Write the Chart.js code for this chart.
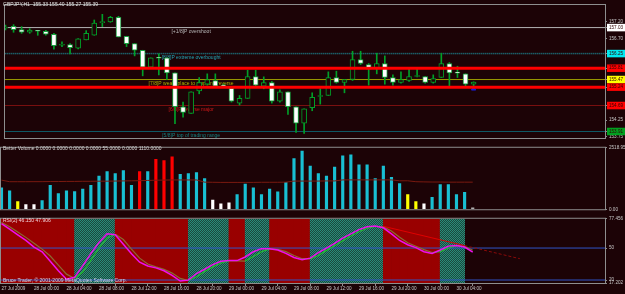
<!DOCTYPE html>
<html>
<head>
<meta charset="utf-8">
<title>GBPJPY,H1</title>
<script src="https://cdn.jsdelivr.net/npm/chart.js@4.4.1/dist/chart.umd.min.js"></script>
<style>
  html, body { margin: 0; padding: 0; background: #1c0306; }
  #wrap { position: relative; width: 625px; height: 294px; overflow: hidden; background: #1c0306; }
  #wrap canvas { position: absolute; left: 0; }
</style>
</head>
<body>
<div id="wrap">
  <canvas id="chartPrice" width="625" height="143" style="top:0"></canvas>
  <canvas id="chartVolume" width="625" height="71" style="top:143px"></canvas>
  <canvas id="chartRsi" width="625" height="80" style="top:214px"></canvas>
</div>
<script>
// GBPJPY H1 bars, 27 Jul 20:00 .. 30 Jul 06:00 (one entry per bar)
const open  = [157.02, 157.07, 156.97, 156.89, 156.93, 156.92, 156.83, 156.50, 156.52, 156.41,
               156.66, 156.80, 157.18, 157.20, 157.34, 156.77, 156.55, 156.35, 155.84, 156.12,
               156.12, 155.67, 154.65, 154.45, 155.13, 155.33, 155.44, 155.30, 155.21, 154.76,
               154.90, 155.56, 155.27, 155.38, 154.82, 155.10, 154.65, 154.16, 154.62, 154.96,
               154.99, 155.53, 155.38, 155.47, 156.07, 155.92, 155.81, 155.95, 155.53, 155.38,
               155.44, 155.56, 155.56, 155.38, 155.53, 155.95, 155.67, 155.64, 155.33];
const high  = [157.11, 157.12, 157.06, 157.00, 156.95, 156.95, 156.86, 156.60, 156.55, 156.70,
               156.94, 157.26, 157.43, 157.37, 157.37, 156.77, 156.55, 156.35, 156.12, 156.24,
               156.12, 155.67, 154.79, 155.10, 155.53, 155.64, 155.64, 155.33, 155.21, 154.99,
               155.75, 155.75, 155.55, 155.41, 155.16, 155.10, 154.65, 154.59, 155.07, 155.19,
               155.70, 155.72, 155.47, 156.32, 156.32, 155.95, 156.26, 156.18, 155.61, 155.70,
               155.78, 155.78, 155.56, 155.61, 156.26, 155.98, 155.87, 155.64, 155.40];
const low   = [156.96, 156.89, 156.86, 156.86, 156.80, 156.80, 156.38, 156.46, 156.24, 156.39,
               156.66, 156.80, 157.06, 157.19, 156.75, 156.46, 156.18, 155.58, 155.84, 155.61,
               155.47, 154.14, 154.34, 154.45, 155.04, 155.30, 155.24, 155.26, 154.79, 154.70,
               154.90, 155.27, 155.19, 154.76, 154.79, 154.42, 153.88, 153.85, 154.53, 154.73,
               154.99, 155.36, 155.07, 155.44, 155.92, 155.30, 155.64, 155.33, 155.30, 155.36,
               155.41, 155.55, 155.36, 155.36, 155.53, 155.27, 155.53, 155.27, 155.27];
const close = [157.04, 156.97, 156.89, 156.96, 156.92, 156.83, 156.49, 156.52, 156.43, 156.69,
               156.86, 157.17, 157.19, 157.34, 156.75, 156.55, 156.35, 155.84, 156.12, 156.11,
               155.67, 154.65, 154.48, 155.10, 155.38, 155.47, 155.27, 155.27, 154.82, 154.90,
               155.56, 155.30, 155.38, 154.82, 155.10, 154.65, 154.16, 154.59, 154.93, 154.99,
               155.53, 155.38, 155.47, 156.07, 155.95, 155.78, 155.95, 155.53, 155.38, 155.47,
               155.56, 155.58, 155.38, 155.50, 155.95, 155.67, 155.66, 155.33, 155.39];

// Better Volume
const volume  = [876, 752, 312, 188, 188, 350, 978, 639, 752, 726,
                 827, 978, 1354, 1542, 1466, 1579, 978, 1542, 1542, 2042,
                 1993, 2143, 1429, 1466, 1504, 1252, 376, 226, 263, 602,
                 1026, 876, 602, 827, 714, 1102, 2079, 2380, 1767, 1466,
                 1354, 1730, 2192, 2230, 1816, 1816, 1252, 1767, 1305, 1053,
                 602, 312, 226, 489, 1015, 1015, 602, 688, 55];
// n neutral, r climax, w low churn, y low volume, g current bar
const volType = ['n','n','y','w','w','n','n','n','n','n',
                 'n','n','n','n','n','n','n','r','n','r',
                 'r','r','n','n','n','n','w','w','w','n',
                 'n','n','n','n','n','n','n','n','n','n',
                 'n','n','n','n','n','n','n','n','n','n',
                 'y','y','w','n','n','n','n','n','g'];
const volAvg  = [1192, 1128, 1128, 1128, 1130, 1130, 1135, 1135, 1140, 1140,
                 1145, 1145, 1150, 1150, 1155, 1160, 1165, 1170, 1180, 1190,
                 1195, 1200, 1200, 1200, 1200, 1110, 1105, 1100, 1100, 1100,
                 1100, 1100, 1105, 1105, 1105, 1110, 1154, 1154, 1154, 1154,
                 1160, 1160, 1203, 1203, 1203, 1203, 1203, 1203, 1203, 1166,
                 1166, 1128, 1120, 1115, 1115, 1110, 1110, 1110, 1110];

// RSI panel
const rsi    = [73, 67.7, 62.4, 57.1, 50.9, 46.5, 37.6, 28.7, 20.8, 22.5,
                33.2, 44.7, 55.3, 63.3, 62.4, 53.5, 44.7, 36.7, 33.2, 31.4,
                28.7, 24.3, 19, 19.9, 26.1, 30.1, 34.5, 37.6, 38.2, 38.2,
                41.6, 46.5, 49.4, 49.4, 48.2, 45, 41.1, 39.1, 40.5, 45.6,
                50, 54.4, 59.3, 63.3, 67.3, 69.9, 70.6, 69, 63.3, 57.1,
                53.1, 50.4, 46.5, 45, 48.2, 51.8, 52.4, 50.9, 46.15];
const rsiSig = [74, 70, 65, 60, 54.5, 49, 42.5, 34, 25.5, 21.5,
                27.5, 38.5, 50, 59.5, 63, 58, 49, 40.5, 35, 32.3,
                30, 26.5, 21.5, 19.5, 23, 28, 32.3, 36, 38, 37.9,
                37.8, 42, 46.5, 49.2, 48.8, 46.6, 43, 40, 39.8, 43,
                47.8, 52.2, 56.8, 61.3, 65.3, 68.6, 70.2, 69.8, 66, 60.2,
                55, 51.7, 48.5, 45.8, 46.6, 50, 52.1, 51.6, 47.906];
// 1 up, -1 down, 0 none; block k covers bar k-1 .. k
const rsiTrend = [-1,-1,-1,-1,-1,-1,-1,-1,-1,-1,
                  1, 1, 1, 1, 1,-1,-1,-1,-1,-1,
                  -1,-1,-1,-1, 1, 1, 1, 1, 1,-1,
                  -1, 1, 1, 1,-1,-1,-1,-1,-1, 1,
                  1, 1, 1, 1, 1, 1, 1, 1,-1,-1,
                  -1,-1,-1,-1,-1, 1, 1, 1, 0];
const rsiLevels = [50, 20];
const trendBars = [47, 57, 63.8];
const trendVals = [70.4, 52.3, 40];

// Murrey math lines
const murreyLevels = [157.03125, 156.25, 155.46875, 154.6875, 153.90625];
const murreyNames  = ['[+1/8]P overshoot', '[8/8]P extreme overbought',
                      '[7/8]P weak, place to stop and reverse', '[6/8]P reverse major',
                      '[5/8]P top of trading range'];
const redLevels  = [155.81, 155.24];
const priceTicks = [157.20, 156.70, 154.25, 153.75];
const arrowBar   = [58];
const arrowPrice = [155.19];

const volTicks = [0, 2518.95];
const rsiTicks = [77.456, 50, 20, 17.202];

const timeTickBars   = [0, 4, 8, 12, 16, 20, 24, 28, 32, 36, 40, 44, 48, 52, 56];
const timeTickLabels = ['27 Jul 2009', '28 Jul 00:00', '28 Jul 04:00', '28 Jul 08:00', '28 Jul 12:00',
                        '28 Jul 16:00', '28 Jul 20:00', '29 Jul 00:00', '29 Jul 04:00', '29 Jul 08:00',
                        '29 Jul 12:00', '29 Jul 16:00', '29 Jul 20:00', '30 Jul 00:00', '30 Jul 04:00'];

// ---- estilos ----
const BG = '#1c0306';
const FRAME = '#8e8e8e';
const AXIS_TXT = '#c8c8c8';
const FONT = '"Liberation Sans", Arial, sans-serif';
const X_MIN = -0.06, X_MAX = 74.28;

const murreyColors = ['#b4b4b4', '#1c8c98', '#9a9a00', '#7a1010', '#0f5a66'];
const murreyText   = ['#b8b8b8', '#22a8b8', '#b0b000', '#d01818', '#138080'];
const murreyBoxes  = ['#ffffff', '#00e8f0', '#ffff00', '#ff0000', '#00a020'];
const volColors = { n: '#19bfd2', r: '#ff0000', w: '#ffffff', y: '#ffff00', g: '#b0b0b0' };

Chart.defaults.font.family = FONT;
Chart.defaults.font.size = 4.6;
Chart.defaults.animation = false;

const bars = open.map((_, i) => i);

function hatch() {
  const c = document.createElement('canvas');
  c.width = 2; c.height = 2;
  const g = c.getContext('2d');
  g.fillStyle = '#1a4a3c'; g.fillRect(0, 0, 2, 2);
  g.fillStyle = '#2a8a7a'; g.fillRect(0, 0, 1, 1); g.fillRect(1, 1, 1, 1);
  return g.createPattern(c, 'repeat');
}

function hLine(v, color, width, dash, order) {
  return {
    type: 'line',
    data: [{ x: -2, y: v }, { x: 80, y: v }],
    borderColor: color, borderWidth: width, borderDash: dash || [],
    pointRadius: 0, order: order
  };
}

function xAxis(display) {
  return {
    type: 'linear', min: X_MIN, max: X_MAX, offset: false, display: display,
    grid: { display: false }
  };
}

function yAxis(min, max, tickValues, extra) {
  return Object.assign({
    position: 'right', min: min, max: max,
    afterFit: s => { s.width = 20; },
    afterBuildTicks: s => { s.ticks = tickValues.map(v => ({ value: v })); },
    border: { display: true, color: FRAME },
    grid: { drawOnChartArea: false, drawTicks: true, tickLength: 2, color: FRAME },
    ticks: { autoSkip: false, padding: 2, color: AXIS_TXT }
  }, extra || {});
}

function panel(texts) {
  return {
    id: 'panel',
    afterDraw(chart) {
      const { ctx, chartArea: a } = chart;
      ctx.save();
      ctx.strokeStyle = FRAME;
      ctx.lineWidth = 1;
      ctx.strokeRect(a.left - 0.5, a.top - 0.5, a.right - a.left + 1, a.bottom - a.top + 1);
      ctx.font = '5px ' + FONT;
      ctx.textAlign = 'left';
      ctx.textBaseline = 'middle';
      texts.forEach(t => {
        ctx.fillStyle = t.color;
        ctx.fillText(t.text, t.x, t.y);
      });
      ctx.restore();
    }
  };
}

const baseOptions = {
  responsive: false,
  layout: { padding: { left: 1, right: 0, top: 1, bottom: 1 } },
  plugins: { legend: { display: false }, tooltip: { enabled: false } }
};

// ---- precio ----
const allPriceTicks = priceTicks.concat(murreyLevels, redLevels);
function boxFor(v) {
  const m = murreyLevels.indexOf(v);
  if (m >= 0) return murreyBoxes[m];
  if (redLevels.indexOf(v) >= 0) return '#ff0000';
  return null;
}

const murreyLabels = {
  id: 'murreyLabels',
  beforeDatasetsDraw(chart) {
    const { ctx, scales: { x, y } } = chart;
    ctx.save();
    ctx.font = '5px ' + FONT;
    ctx.textAlign = 'center';
    ctx.textBaseline = 'top';
    murreyLevels.forEach((v, i) => {
      ctx.fillStyle = murreyText[i];
      ctx.fillText(murreyNames[i], x.getPixelForValue(23), y.getPixelForValue(v) + 1.5);
    });
    ctx.restore();
  }
};

new Chart(document.getElementById('chartPrice'), {
  type: 'bar',
  data: {
    datasets: [
      ...redLevels.map(v => hLine(v, '#ff0000', 3, null, 0)),
      {
        type: 'scatter',
        data: arrowBar.map((b, i) => ({ x: b, y: arrowPrice[i] })),
        pointStyle: 'triangle', pointRadius: 2.5, backgroundColor: '#1a1ad8', borderColor: '#1a1ad8',
        order: 0
      },
      {
        data: bars.map(i => ({ x: i, y: [open[i], close[i]] })),
        backgroundColor: bars.map(i => close[i] >= open[i] ? BG : '#ffffff'),
        borderColor: bars.map(i => close[i] >= open[i] ? '#00a028' : '#1aa040'),
        borderWidth: 1, borderSkipped: false,
        barThickness: 5, minBarLength: 1, grouped: false, order: 1
      },
      {
        data: bars.map(i => ({ x: i, y: [low[i], high[i]] })),
        backgroundColor: '#00a028',
        barThickness: 1, minBarLength: 1, grouped: false, order: 2
      },
      ...murreyLevels.map((v, i) => hLine(v, murreyColors[i], i === 1 ? 1.5 : 1, i === 1 ? [1, 1] : null, 3))
    ]
  },
  options: Object.assign({}, baseOptions, {
    scales: {
      x: xAxis(false),
      y: yAxis(153.7106, 157.7106, allPriceTicks, {
        ticks: {
          autoSkip: false, padding: 2,
          callback: v => v.toFixed(2),
          color: c => boxFor(c.tick.value) ? '#300000' : AXIS_TXT,
          showLabelBackdrop: true,
          backdropColor: c => boxFor(c.tick.value) || 'rgba(0,0,0,0)',
          backdropPadding: { top: 1, bottom: 1, left: 2, right: 4 }
        }
      })
    }
  }),
  plugins: [murreyLabels, panel([
    { text: 'GBPJPY,H1  155.33 155.40 155.27 155.39', x: 3, y: 5, color: '#e6e6e6' }
  ])]
});

// ---- volumen ----
new Chart(document.getElementById('chartVolume'), {
  type: 'bar',
  data: {
    datasets: [
      {
        type: 'line',
        data: bars.map(i => ({ x: i, y: volAvg[i] })),
        borderColor: '#7a1a10', borderWidth: 1, pointRadius: 0, order: 0
      },
      {
        data: bars.map(i => ({ x: i, y: volume[i] })),
        backgroundColor: volType.map(t => volColors[t]),
        barThickness: 2.5, grouped: false, order: 1
      }
    ]
  },
  options: Object.assign({}, baseOptions, {
    layout: { padding: { left: 1, right: 0, top: 1, bottom: 2.5 } },
    scales: {
      x: xAxis(false),
      y: yAxis(0, 2518.95, volTicks, {
        ticks: { autoSkip: false, padding: 2, color: AXIS_TXT, callback: v => v.toFixed(2) }
      })
    }
  }),
  plugins: [panel([
    { text: 'Better Volume 0.0000 0.0000 0.0000 0.0000 55.0000 0.0000 1110.0000', x: 3, y: 6, color: '#d8d8d8' }
  ])]
});

// ---- RSI ----
const RSI_MIN = 17.202, RSI_MAX = 77.456;
const hatchFill = hatch();
const blockBars = bars.filter(k => rsiTrend[k] !== 0);

new Chart(document.getElementById('chartRsi'), {
  type: 'bar',
  data: {
    datasets: [
      {
        type: 'line',
        data: [{ x: trendBars[0], y: trendVals[0] }, { x: trendBars[1], y: trendVals[1] }],
        borderColor: '#e00000', borderWidth: 1, pointRadius: 0, order: 0
      },
      {
        type: 'line',
        data: [{ x: trendBars[1], y: trendVals[1] }, { x: trendBars[2], y: trendVals[2] }],
        borderColor: '#8a0a0a', borderWidth: 1, borderDash: [3, 2], pointRadius: 0, order: 0
      },
      {
        type: 'line',
        data: bars.map(i => ({ x: i, y: rsi[i] })),
        borderColor: '#ee10ee', borderWidth: 1.5, pointRadius: 0, order: 1
      },
      {
        type: 'line',
        data: bars.map(i => ({ x: i, y: rsiSig[i] })),
        borderColor: '#20c030', borderWidth: 1.2, pointRadius: 0, order: 2,
        segment: { borderColor: c => c.p1.parsed.y >= c.p0.parsed.y ? '#20c030' : '#8a6a30' }
      },
      ...rsiLevels.map(v => hLine(v, '#2f55c8', 1, null, 3)),
      {
        data: blockBars.map(k => ({ x: k - 0.5, y: [RSI_MIN, RSI_MAX] })),
        backgroundColor: blockBars.map(k => rsiTrend[k] > 0 ? hatchFill : '#990000'),
        barThickness: 8.25, grouped: false, order: 4
      }
    ]
  },
  options: Object.assign({}, baseOptions, {
    layout: { padding: { left: 1, right: 0, top: 1, bottom: 0 } },
    scales: {
      x: {
        type: 'linear', min: X_MIN, max: X_MAX, offset: false, position: 'bottom',
        afterFit: s => { s.height = 11; },
        afterBuildTicks: s => { s.ticks = timeTickBars.map(v => ({ value: v })); },
        border: { display: true, color: FRAME },
        grid: { drawOnChartArea: false, drawTicks: true, tickLength: 3, color: FRAME },
        ticks: {
          autoSkip: false, maxRotation: 0, align: 'start', padding: 0, color: AXIS_TXT,
          callback: v => timeTickLabels[timeTickBars.indexOf(v)]
        }
      },
      y: yAxis(RSI_MIN, RSI_MAX, rsiTicks, {
        ticks: { autoSkip: false, padding: 2, color: AXIS_TXT, callback: v => String(v) }
      })
    }
  }),
  plugins: [panel([
    { text: 'RSI(2) 46.150 47.906', x: 3, y: 7, color: '#f0d0d8' },
    { text: 'Bruce Trader, \u00a9 2001-2009 MetaQuotes Software Corp.', x: 3, y: 67, color: '#d8d8e8' }
  ])]
});
</script>
</body>
</html>
